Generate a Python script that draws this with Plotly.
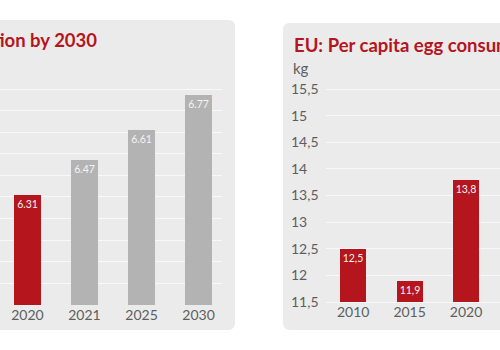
import plotly.graph_objects as go

# ---- data ----
prod_years = ["2020", "2021", "2025", "2030"]
prod_values = [6.31, 6.47, 6.61, 6.77]
prod_colors = ["#b5151d", "#b3b3b3", "#b3b3b3", "#b3b3b3"]

cons_years = ["2010", "2015", "2020"]
cons_values = [12.5, 11.9, 13.8]

left_title = "EU: Egg production by 2030"
right_title = "EU: Per capita egg consumption"
right_unit = "kg"

W, H = 500, 350
RED = "#b5151d"
BG = "#ebebeb"
GRID = "#f8f8f8"
TXT = "#5e5e5e"
FONT = "Lato, 'Open Sans', sans-serif"


def px(x):
    return x / W


def py(y):
    return 1 - y / H


def rounded_rect(x0, y0, x1, y1, r):
    pts = [
        f"M {px(x0 + r)},{py(y0)}",
        f"L {px(x1 - r)},{py(y0)}",
        f"Q {px(x1)},{py(y0)} {px(x1)},{py(y0 + r)}",
        f"L {px(x1)},{py(y1 - r)}",
        f"Q {px(x1)},{py(y1)} {px(x1 - r)},{py(y1)}",
        f"L {px(x0 + r)},{py(y1)}",
        f"Q {px(x0)},{py(y1)} {px(x0)},{py(y1 - r)}",
        f"L {px(x0)},{py(y0 + r)}",
        f"Q {px(x0)},{py(y0)} {px(x0 + r)},{py(y0)}",
        "Z",
    ]
    return " ".join(pts)


LEFT_BASE = 5.8
RIGHT_BASE = 11.5

fig = go.Figure()

fig.add_trace(go.Bar(
    x=prod_years, y=[v - LEFT_BASE for v in prod_values], base=LEFT_BASE,
    marker=dict(color=prod_colors, line=dict(width=0)),
    width=0.47, xaxis="x", yaxis="y",
    text=[f"{v:.2f}" for v in prod_values], textposition="inside",
    insidetextanchor="end", constraintext="none", textangle=0,
    insidetextfont=dict(family=FONT, size=10.5, color="#f4f4f4"),
    hovertemplate="%{x}: %{text}<extra></extra>",
))
fig.add_trace(go.Bar(
    x=cons_years, y=[v - RIGHT_BASE for v in cons_values], base=RIGHT_BASE,
    marker=dict(color=RED, line=dict(width=0)),
    width=0.46, xaxis="x2", yaxis="y2",
    text=[f"{v:.1f}".replace(".", ",") for v in cons_values], textposition="inside",
    insidetextanchor="end", constraintext="none", textangle=0,
    insidetextfont=dict(family=FONT, size=10.5, color="#f4f4f4"),
    hovertemplate="%{x}: %{text}<extra></extra>",
))

annotations = [
    dict(x=px(99), y=py(40), xref="paper", yref="paper", text=f"<b>{left_title}</b>",
         showarrow=False, xanchor="right", yanchor="middle",
         font=dict(family=FONT, size=18.5, color=RED)),
    dict(x=px(292), y=py(45), xref="paper", yref="paper", text=f"<b>{right_title}</b>",
         showarrow=False, xanchor="left", yanchor="middle",
         font=dict(family=FONT, size=18.5, color=RED)),
    dict(x=px(291), y=py(68), xref="paper", yref="paper", text=right_unit,
         showarrow=False, xanchor="left", yanchor="middle",
         font=dict(family=FONT, size=15, color=TXT)),
]

shapes = [
    dict(type="path", path=rounded_rect(-20, 20, 235, 330, 7), xref="paper", yref="paper",
         fillcolor=BG, line=dict(width=0), layer="below"),
    dict(type="path", path=rounded_rect(283, 23, 530, 330, 7), xref="paper", yref="paper",
         fillcolor=BG, line=dict(width=0), layer="below"),
]

axis_font = dict(family=FONT, size=14, color=TXT)

# right panel: 53.25 px per kg, baseline at pixel 302
R_PPU = 53.25
r_bot_px, r_top_px = 314, 72

fig.update_layout(
    width=W, height=H,
    margin=dict(l=0, r=0, t=0, b=0),
    paper_bgcolor="white",
    plot_bgcolor="rgba(0,0,0,0)",
    showlegend=False,
    separators=",.",
    bargap=0,
    annotations=annotations,
    shapes=shapes,
    xaxis=dict(domain=[0, px(222)], range=[-0.48, 3.41], type="category",
               showgrid=False, showline=False, zeroline=False, ticks="",
               tickfont=axis_font, fixedrange=True),
    yaxis=dict(domain=[py(305), py(85)], range=[5.799, 5.8 + 220 / 216],
               dtick=0.1, tick0=5.8, showgrid=True, gridcolor=GRID, gridwidth=1,
               showticklabels=False, zeroline=False, showline=False, ticks="",
               anchor="x", fixedrange=True),
    xaxis2=dict(domain=[px(326), 1], range=[-0.48, 2.6], type="category",
                showgrid=False, showline=False, zeroline=False, ticks="",
                tickfont=axis_font, anchor="free", position=py(302), fixedrange=True),
    yaxis2=dict(domain=[py(r_bot_px), py(r_top_px)],
                range=[11.5 - (r_bot_px - 302) / R_PPU, 11.5 + (302 - r_top_px) / R_PPU],
                dtick=0.5, tick0=11.5, showgrid=True, gridcolor=GRID, gridwidth=1,
                zeroline=False, showline=False, ticks="",
                anchor="free", position=px(287), ticklabelposition="inside",
                tickfont=axis_font, fixedrange=True),
)

fig.write_html("out.html")
